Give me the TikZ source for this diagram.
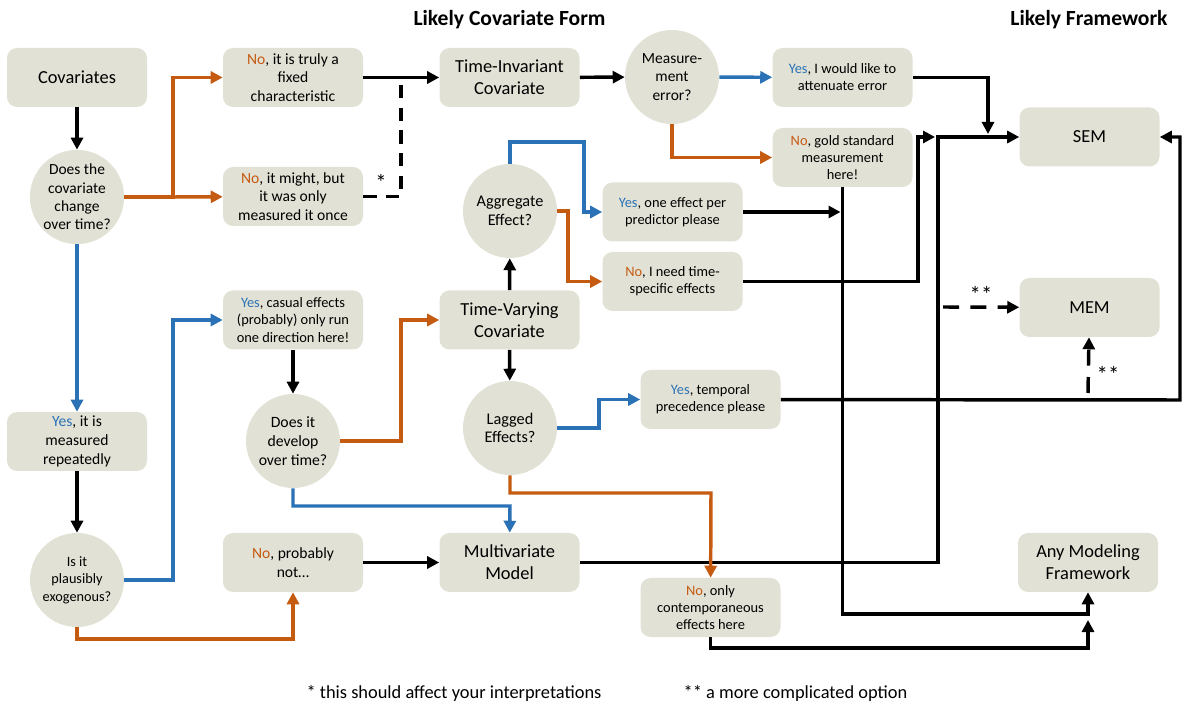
\documentclass[tikz,border=0pt]{standalone}
\usepackage{fontspec}
\setmainfont{Carlito}
\usepackage{tikz}
\usetikzlibrary{arrows.meta,positioning}

\definecolor{boxfill}{HTML}{E2E1D5}
\definecolor{noorange}{HTML}{C55A11}
\definecolor{yesblue}{HTML}{2A72B5}
\newcommand{\nolbl}{\textcolor{noorange}{No}}
\newcommand{\yeslbl}{\textcolor{yesblue}{Yes}}

\begin{document}
\begin{tikzpicture}[x=0.75pt, y=-0.75pt,
    base/.style={fill=boxfill, rounded corners=7.5pt, inner sep=0pt, align=center,
        minimum width=105pt, minimum height=44.25pt},
    bigbox/.style={base, font=\fontsize{13.8}{16.5}\selectfont},
    midbox/.style={base, font=\fontsize{11.7}{14}\selectfont},
    smallbox/.style={base, font=\fontsize{10.8}{12.8}\selectfont},
    ask/.style={circle, fill=boxfill, minimum size=70.5pt, inner sep=0pt, align=center,
        font=\fontsize{11.6}{13.8}\selectfont},
    arr/.style={line width=2.6pt, -{Triangle[length=9pt,width=9pt]}},
    noarr/.style={arr, noorange},
    yesarr/.style={arr, yesblue},
    link/.style={line width=2.6pt},
    note/.style={font=\fontsize{17}{18}\selectfont},
    title/.style={font=\bfseries\fontsize{16.2}{18}\selectfont}]
    \useasboundingbox (0,0) rectangle (1182,705);

    % Headings
    \node[title] (ttlform) at (509.5,20) {Likely Covariate Form};
    \node[title] (ttlfw) at (1089,20) {Likely Framework};

    % Left column
    \node[bigbox] (cov) at (77,77.5) {Covariates};
    \node[ask] (chg) at (77,197) {Does the\\covariate\\change\\over time?};
    \node[midbox] (reps) at (77,441.5) {\yeslbl, it is\\measured\\repeatedly};
    \node[ask, font=\fontsize{10.7}{13}\selectfont] (exo) at (77,580) {Is it\\plausibly\\exogenous?};

    % Second column
    \node[midbox] (fixed) at (293,77.5) {\nolbl, it is truly a\\fixed\\characteristic};
    \node[midbox] (once) at (293,196.5) {\nolbl, it might, but\\it was only\\measured it once};
    \node[smallbox] (casual) at (293,320) {\yeslbl, casual effects\\(probably) only run\\one direction here!};
    \node[ask, font=\fontsize{11.8}{14.2}\selectfont] (develop) at (293,441) {Does it\\develop\\over time?};
    \node[midbox] (notp) at (293,562.5) {\nolbl, probably\\not…};

    % Covariate forms
    \node[bigbox] (tinv) at (509.5,77.5) {Time-Invariant\\Covariate};
    \node[ask, font=\fontsize{12.2}{14}\selectfont] (agg) at (510,211) {Aggregate\\Effect?};
    \node[bigbox] (tvar) at (509.5,320) {Time-Varying\\Covariate};
    \node[ask, font=\fontsize{12.2}{14}\selectfont] (lag) at (510,428) {Lagged\\Effects?};
    \node[bigbox] (mvm) at (509.5,562.5) {Multivariate\\Model};

    % Answers on the right side
    \node[ask] (merr) at (672,77) {Measure-\\ment\\error?};
    \node[smallbox] (atten) at (842.5,77.5) {\yeslbl, I would like to\\attenuate error};
    \node[smallbox] (gold) at (842.5,157.5) {\nolbl, gold standard\\measurement\\here!};
    \node[smallbox] (oneeff) at (672.5,212) {\yeslbl, one effect per\\predictor please};
    \node[smallbox] (tspec) at (672.5,281.5) {\nolbl, I need time-\\specific effects};
    \node[smallbox] (temporal) at (710.5,399.5) {\yeslbl, temporal\\precedence please};
    \node[smallbox] (contemp) at (710.5,607.5) {\nolbl, only\\contemporaneous\\effects here};

    % Frameworks
    \node[bigbox] (sem) at (1089.5,137) {SEM};
    \node[bigbox] (mem) at (1089.5,307.5) {MEM};
    \node[bigbox] (anyfw) at (1088,562.5) {Any Modeling\\Framework};

    % Bend points
    \coordinate (jchg) at (173,197);
    \coordinate (jonce) at (401,77);
    \coordinate (jexo) at (173,580);
    \coordinate (jdev) at (401,441);
    \coordinate (busdev) at (510,506);
    \coordinate (busexo) at (293,639);
    \coordinate (busagg) at (584,142);
    \coordinate (jagg) at (568,211);
    \coordinate (jlag) at (599,428);
    \coordinate (buslag) at (711,493);
    \coordinate (tipatt) at (988,134);
    \coordinate (busmvm) at (938,137);
    \coordinate (bustsp) at (918,137);
    \coordinate (busgold) at (1088,614);
    \coordinate (buscon) at (1088,648);
    \coordinate (bustmp) at (1180,400);
    \coordinate (memleft) at (943,307);
    \coordinate (memlow) at (1088,393);

    % Connectors
    \draw[arr] (cov) -- (chg);
    \draw[noarr] (chg) -- (jchg) |- (fixed);
    \draw[noarr] (jchg) -- (once);
    \draw[arr] (fixed) -- (tinv);
    \draw[link, dash pattern=on 10pt off 7pt] (once) -| (jonce);
    \node[note] (star) at (381,182) {*};
    \draw[arr] (tinv) -- (merr);
    \draw[yesarr] (merr) -- (atten);
    \draw[noarr] (merr) |- (gold);
    \draw[arr] (atten) -| (tipatt);
    \draw[arr] (mvm) -| (busmvm) -- (sem);
    \draw[arr] (tspec) -| (bustsp) -- ++(17,0);
    \draw[arr] (gold) |- (busgold) -- (anyfw);
    \draw[arr, shorten >=1.5pt] (oneeff) -- (oneeff -| gold);
    \draw[arr] (contemp) |- (buscon) -- ++(0,-28);
    \draw[arr] (temporal) -- (bustmp) |- (sem);
    \draw[arr, dash pattern=on 12pt off 8.5pt] (memleft) -- (mem);
    \node[note] (stara) at (981,294) {**};
    \draw[arr, dash pattern=on 12pt off 8.5pt] (memlow) -- (mem);
    \node[note] (starb) at (1108,374) {**};
    \draw[yesarr] (chg) -- (reps);
    \draw[arr] (reps) -- (exo);
    \draw[yesarr] (exo) -- (jexo) |- (casual);
    \draw[noarr] (exo) |- (busexo) -- (notp);
    \draw[arr] (casual) -- (develop);
    \draw[noarr] (develop) -- (jdev) |- (tvar);
    \draw[yesarr] (develop) |- (busdev) -- (mvm);
    \draw[arr] (notp) -- (mvm);
    \draw[arr] (tvar) -- (agg);
    \draw[arr] (tvar) -- (lag);
    \draw[yesarr] (agg) |- (busagg) |- (oneeff);
    \draw[noarr] (agg) -- (jagg) |- (tspec);
    \draw[yesarr] (lag) -- (jlag) |- (temporal);
    \draw[noarr] (lag) |- (buslag) -- (contemp);

    % Footnotes
    \node[font=\fontsize{13.8}{16}\selectfont] (fnone) at (454,693) {* this should affect your interpretations};
    \node[font=\fontsize{13.8}{16}\selectfont] (fntwo) at (795.5,693) {** a more complicated option};
\end{tikzpicture}
\end{document}
